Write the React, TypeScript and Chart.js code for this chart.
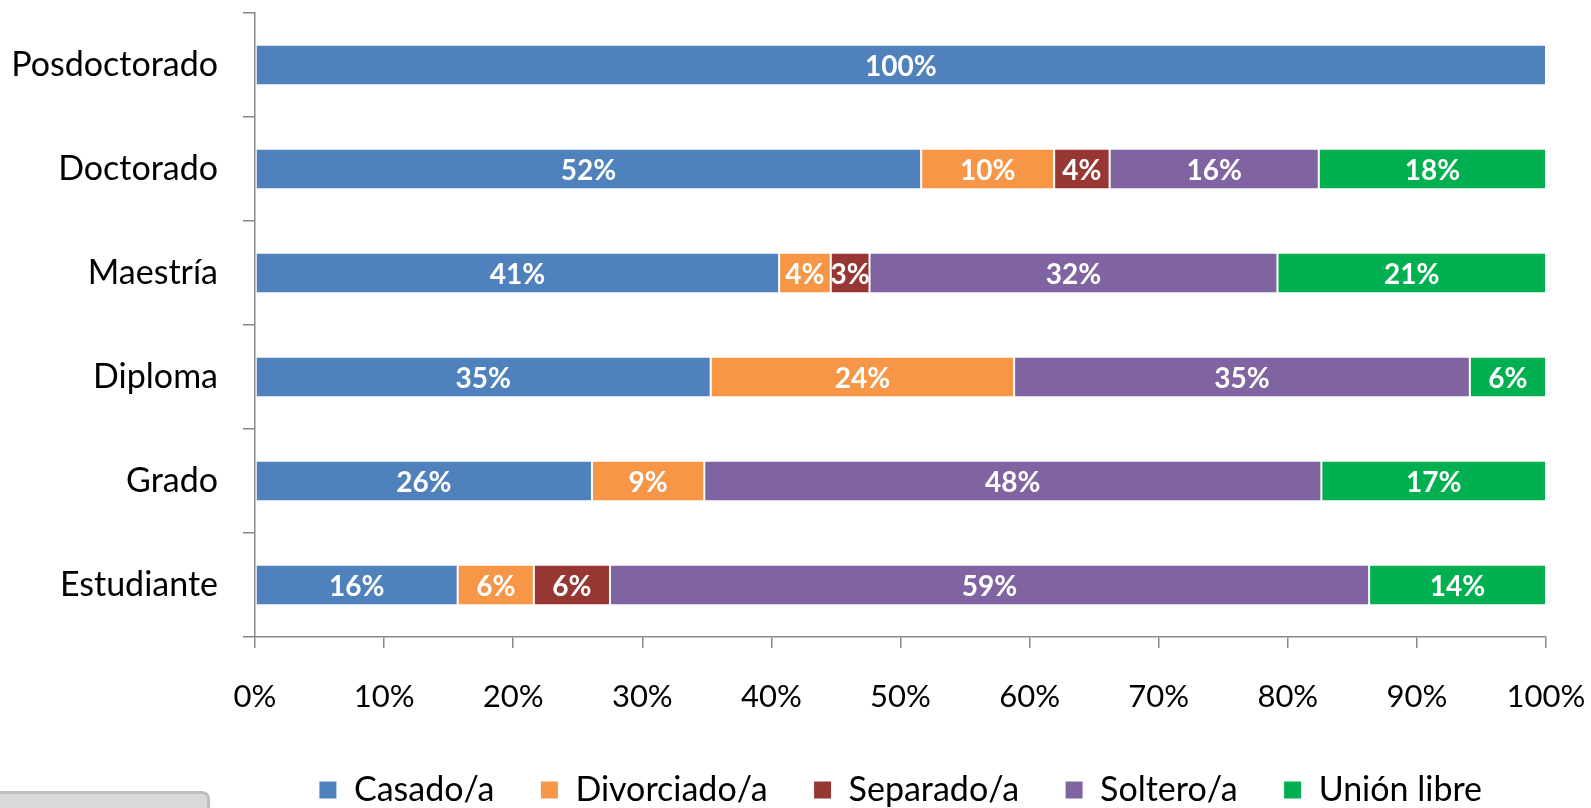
import React, { useEffect, useRef } from "react";
import { Chart, registerables } from "chart.js";

Chart.register(...registerables);

const categories = ["Posdoctorado", "Doctorado", "Maestría", "Diploma", "Grado", "Estudiante"];
const seriesNames = ["Casado/a", "Divorciado/a", "Separado/a", "Soltero/a", "Unión libre"];
const seriesColors = ["#4F81BD", "#F79646", "#963734", "#8064A2", "#00B050"];
const casado = [100, 51.6, 40.6, 35.3, 26.1, 15.7];
const divorciado = [0, 10.3, 4.0, 23.5, 8.7, 5.9];
const separado = [0, 4.3, 3.0, 0, 0, 5.9];
const soltero = [0, 16.2, 31.6, 35.3, 47.8, 58.8];
const unionLibre = [0, 17.6, 20.8, 5.9, 17.4, 13.7];
const xTickLabels = ["0%", "10%", "20%", "30%", "40%", "50%", "60%", "70%", "80%", "90%", "100%"];

const FONT = "Lato";

const barLabelPlugin = {
  id: "barLabels",
  afterDatasetsDraw(chart: any) {
    const ctx = chart.ctx;
    ctx.save();
    ctx.font = `bold 28px ${FONT}`;
    ctx.fillStyle = "#ffffff";
    ctx.textAlign = "center";
    ctx.textBaseline = "middle";
    chart.data.datasets.forEach((ds: any, di: number) => {
      const meta = chart.getDatasetMeta(di);
      meta.data.forEach((el: any, i: number) => {
        const v = ds.data[i];
        if (!v) return;
        const p = el.getCenterPoint();
        ctx.fillText(Math.round(v) + "%", p.x, p.y + 2);
      });
    });
    ctx.restore();
  },
};

export default function App() {
  const ref = useRef<HTMLCanvasElement | null>(null);

  useEffect(() => {
    if (!ref.current) return;
    Chart.defaults.font.family = FONT;
    const allValues = [casado, divorciado, separado, soltero, unionLibre];
    const chart = new Chart(ref.current, {
      type: "bar",
      data: {
        labels: categories,
        datasets: seriesNames.map((name, i) => ({
          label: name,
          data: allValues[i],
          backgroundColor: seriesColors[i],
          borderColor: "#ffffff",
          borderWidth: 1,
          borderSkipped: false,
          barPercentage: 0.39,
          categoryPercentage: 1,
        })),
      },
      options: {
        indexAxis: "y",
        animation: false,
        responsive: true,
        maintainAspectRatio: false,
        layout: { padding: { top: 13, right: 45, left: 0, bottom: 0 } },
        scales: {
          x: {
            type: "linear",
            stacked: true,
            min: 0,
            max: 100,
            ticks: {
              stepSize: 10,
              color: "#000",
              font: { family: FONT, size: 31 },
              padding: 30,
              maxRotation: 0,
              callback: (_v: any, i: number) => xTickLabels[i],
            },
            grid: { drawOnChartArea: false, drawTicks: true, tickLength: 11, color: "#878787", lineWidth: 1.5 },
            border: { color: "#878787", width: 1.5 },
            afterFit: (s: any) => {
              s.height = 90;
              s.paddingLeft = 0;
              s.paddingRight = 0;
            },
          },
          y: {
            stacked: true,
            ticks: { color: "#000", font: { family: FONT, size: 34 }, padding: 25 },
            grid: { drawOnChartArea: false, drawTicks: true, tickLength: 12, color: "#878787", lineWidth: 1.5, offset: true },
            border: { color: "#878787", width: 1.5 },
            afterFit: (s: any) => {
              s.width = 255;
              s.paddingTop = 0;
              s.paddingBottom = 0;
            },
          },
        },
        plugins: {
          tooltip: { enabled: false },
          legend: {
            position: "bottom",
            fullSize: false,
            labels: {
              boxWidth: 18,
              boxHeight: 18,
              padding: 46,
              color: "#000",
              font: { family: FONT, size: 34 },
            },
          },
        },
      },
      plugins: [barLabelPlugin],
    } as any);
    return () => chart.destroy();
  }, []);

  return (
    <div style={{ position: "fixed", left: 0, top: 0, width: 1591, height: 808, overflow: "hidden", background: "#fff" }}>
      <div style={{ position: "absolute", left: 0, top: 0, width: 1591, height: 817 }}>
        <canvas ref={ref} />
      </div>
      <div
        style={{
          position: "absolute",
          left: -6,
          top: 791,
          width: 210,
          height: 30,
          background: "#d9d9d9",
          border: "3px solid #bfbfbf",
          borderRadius: 8,
        }}
      />
    </div>
  );
}
